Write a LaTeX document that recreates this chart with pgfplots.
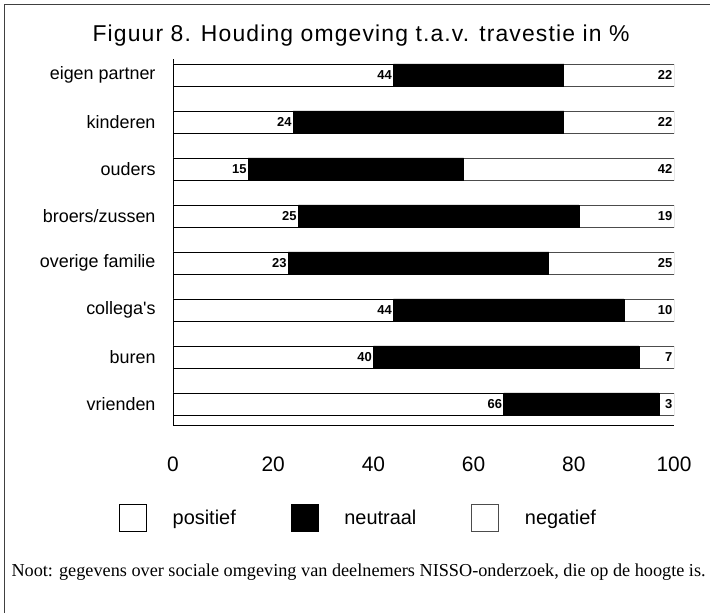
\documentclass[border=0pt]{standalone}
\usepackage{pgfplots}
\pgfplotsset{compat=1.18}
\usepackage{pgfplotstable}
\usepackage{fontspec}
\setmainfont{Liberation Sans}
\newfontfamily\serif{Liberation Serif}
\newfontfamily\titlefont[LetterSpace=5]{Liberation Sans}

\pgfplotstableread{
idx pos neu neg full
7 44 34 22 100
6 24 54 22 100
5 15 43 42 100
4 25 56 19 100
3 23 52 25 100
2 44 46 10 100
1 40 53 7 100
0 66 31 3 100
}\data

\pgfplotsset{
  common/.style={
    at={(173bp,188bp)}, anchor=south west,
    scale only axis, width=501bp, height=366bp,
    xmin=0, xmax=100, ymin=-0.447, ymax=7.34,
  }
}

\begin{document}
\begin{tikzpicture}[x=1bp,y=1bp]
\useasboundingbox (0,0) rectangle (710,613);
\draw[line width=1bp,black!75] (4,0) -- (4,608) -- (710,608);
\node[font=\titlefont\fontsize{23}{25}\selectfont] at (361,577) {Figuur 8. Houding omgeving t.a.v. travestie in \%};
\node[font=\serif\fontsize{18.3}{20}\selectfont, anchor=west] at (8,41) {Noot: gegevens over sociale omgeving van deelnemers NISSO-onderzoek, die op de hoogte is.};
\begin{axis}[
  common,
  xbar stacked, bar width=22bp,
  axis lines*=left,
  axis line style={line width=0.8bp},
  xtick={0,20,...,100},
  ytick={0,...,7},
  yticklabels={vrienden,buren,{collega\textquotesingle s},overige familie,broers/zussen,ouders,kinderen,eigen partner},
  major tick length=0,
  /pgf/number format/assume math mode=true,
  xticklabel style={font=\fontsize{21}{22}\selectfont, yshift=-28bp},
  yticklabel style={font=\fontsize{18}{20}\selectfont, xshift=-14bp},
  legend style={draw=none, inner sep=0pt, at={(-0.108,-0.254)}, anchor=west, legend columns=3,
    font=\fontsize{20}{22}\selectfont,
    /tikz/every odd column/.append style={column sep=24bp},
    /tikz/every even column/.append style={column sep=53bp}},
  legend image code/.code={\draw[#1, line width=0.6bp] (0bp,-13.5bp) rectangle (27bp,13.5bp);},
]
\addplot[fill=white, draw=black, line width=0.6bp]
  table[x=pos, y=idx] {\data};
\addlegendentry{positief}
\addplot[fill=black, draw=black, line width=0.6bp]
  table[x=neu, y=idx] {\data};
\addlegendentry{neutraal}
\addplot[fill=white, draw=black!70, line width=0.6bp]
  table[x=neg, y=idx] {\data};
\addlegendentry{negatief}
\end{axis}
\begin{axis}[
  common, hide axis,
  nodes near coords style={anchor=east, font=\bfseries\fontsize{13}{13}\selectfont, inner sep=1.5bp},
]
\addplot[only marks, mark=none, nodes near coords, point meta=explicit symbolic]
  table[x=pos, y=idx, meta=pos] {\data};
\addplot[only marks, mark=none, nodes near coords, point meta=explicit symbolic]
  table[x=full, y=idx, meta=neg] {\data};
\end{axis}
\end{tikzpicture}
\end{document}
